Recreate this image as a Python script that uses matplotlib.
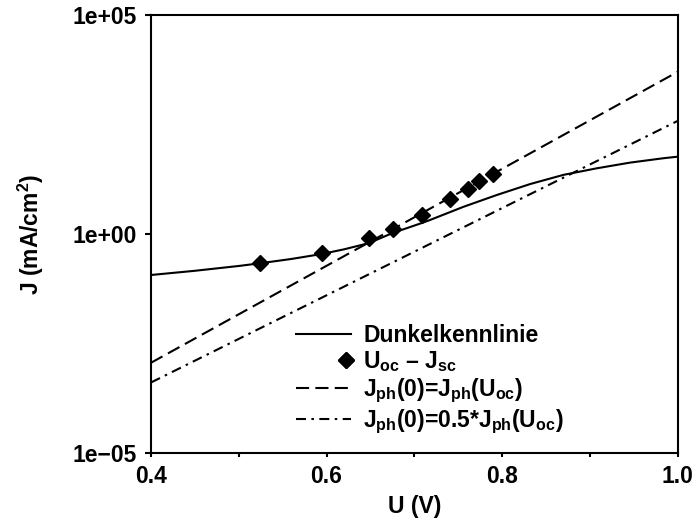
import matplotlib
matplotlib.use("Agg")
import matplotlib.pyplot as plt
from matplotlib.lines import Line2D
from matplotlib.legend_handler import HandlerLine2D

plt.rcParams['font.family'] = ['Liberation Sans', 'DejaVu Sans']
plt.rcParams['font.weight'] = 'bold'
plt.rcParams['mathtext.fontset'] = 'custom'
plt.rcParams['mathtext.rm'] = 'Liberation Sans:bold'
plt.rcParams['mathtext.it'] = 'Liberation Sans:bold'
plt.rcParams['mathtext.bf'] = 'Liberation Sans:bold'

# Dark characteristic
dark_U = [0.40, 0.45, 0.50, 0.524, 0.56, 0.5945, 0.62, 0.648, 0.675, 0.7085,
          0.718, 0.756, 0.794, 0.832, 0.870, 0.908, 0.946, 0.984, 1.0]
dark_logJ = [-0.936, -0.84, -0.73, -0.669, -0.57, -0.457, -0.35, -0.21, 0.02, 0.25,
             0.32, 0.62, 0.89, 1.14, 1.35, 1.50, 1.63, 1.73, 1.765]
dark_J = [10 ** v for v in dark_logJ]

# Uoc - Jsc points
uoc = [0.524, 0.5945, 0.6484, 0.6754, 0.7085, 0.7407, 0.7609, 0.7738, 0.7894]
jsc = [0.214, 0.374, 0.80, 1.30, 2.67, 6.2, 10.8, 16.2, 23.1]

# Straight lines (log-linear)
line_U = [0.4, 1.0]
line1_J = [10 ** -2.94, 10 ** 3.70]
line2_J = [10 ** -3.39, 10 ** 2.58]

labels = ['Dunkelkennlinie',
          r'U$_{oc}$ – J$_{sc}$',
          r'J$_{ph}$(0)=J$_{ph}$(U$_{oc}$)',
          r'J$_{ph}$(0)=0.5*J$_{ph}$(U$_{oc}$)']

FS = 16.5
dash1 = (6.3, 3.0)
dash2 = (4.8, 2.6, 1.2, 2.6)


class RightMarkerHandler(HandlerLine2D):
    def get_xdata(self, legend, xdescent, ydescent, width, height, fontsize):
        x = -xdescent + width - 3
        return [x, x], [x, x]


fig = plt.figure(figsize=(6.94, 5.22), dpi=100)
ax = fig.add_axes([151 / 694, 1 - 453 / 522, (677.5 - 151) / 694, (453 - 15) / 522])

h1, = ax.plot(dark_U, dark_J, color='black', lw=1.5)
ax.plot(uoc, jsc, linestyle='none', marker='D', markersize=8.5, color='black')
h3, = ax.plot(line_U, line1_J, color='black', lw=1.5, dashes=dash1)
h4, = ax.plot(line_U, line2_J, color='black', lw=1.5, dashes=dash2)
h2 = Line2D([], [], linestyle='none', marker='D', markersize=8, color='black')

ax.set_yscale('log')
ax.set_xlim(0.4, 1.0)
ax.set_ylim(1e-5, 1e5)
ax.set_yticks([1e-5, 1e0, 1e5])
ax.set_yticklabels(['1e\u221205', '1e+00', '1e+05'])
ax.yaxis.set_minor_locator(matplotlib.ticker.NullLocator())
ax.set_xticks([0.4, 0.6, 0.8, 1.0])
ax.set_xticklabels(['0.4', '0.6', '0.8', '1.0'])
ax.set_xticks([0.5, 0.7, 0.9], minor=True)
ax.tick_params(axis='y', which='major', labelsize=FS, length=4.5, width=1.5, direction='out', pad=5.5)
ax.tick_params(axis='x', which='both', labelsize=FS, length=3, width=1.5, direction='out', pad=5.5)
for s in ax.spines.values():
    s.set_linewidth(1.5)

ax.set_xlabel('U (V)', fontsize=FS, fontweight='bold', labelpad=5)
ax.set_ylabel(r'J (mA/cm$^{2}$)', fontsize=FS, fontweight='bold', labelpad=19)

leg = ax.legend([h1, h2, h3, h4], labels, loc='upper left',
                bbox_to_anchor=(0.2745, 0.2945), frameon=False,
                handler_map={h2: RightMarkerHandler(numpoints=2)},
                handlelength=2.4, handletextpad=0.55, labelspacing=0.1,
                borderpad=0, borderaxespad=0, prop={'weight': 'bold', 'size': FS})

fig.savefig('out.png', dpi=100)
